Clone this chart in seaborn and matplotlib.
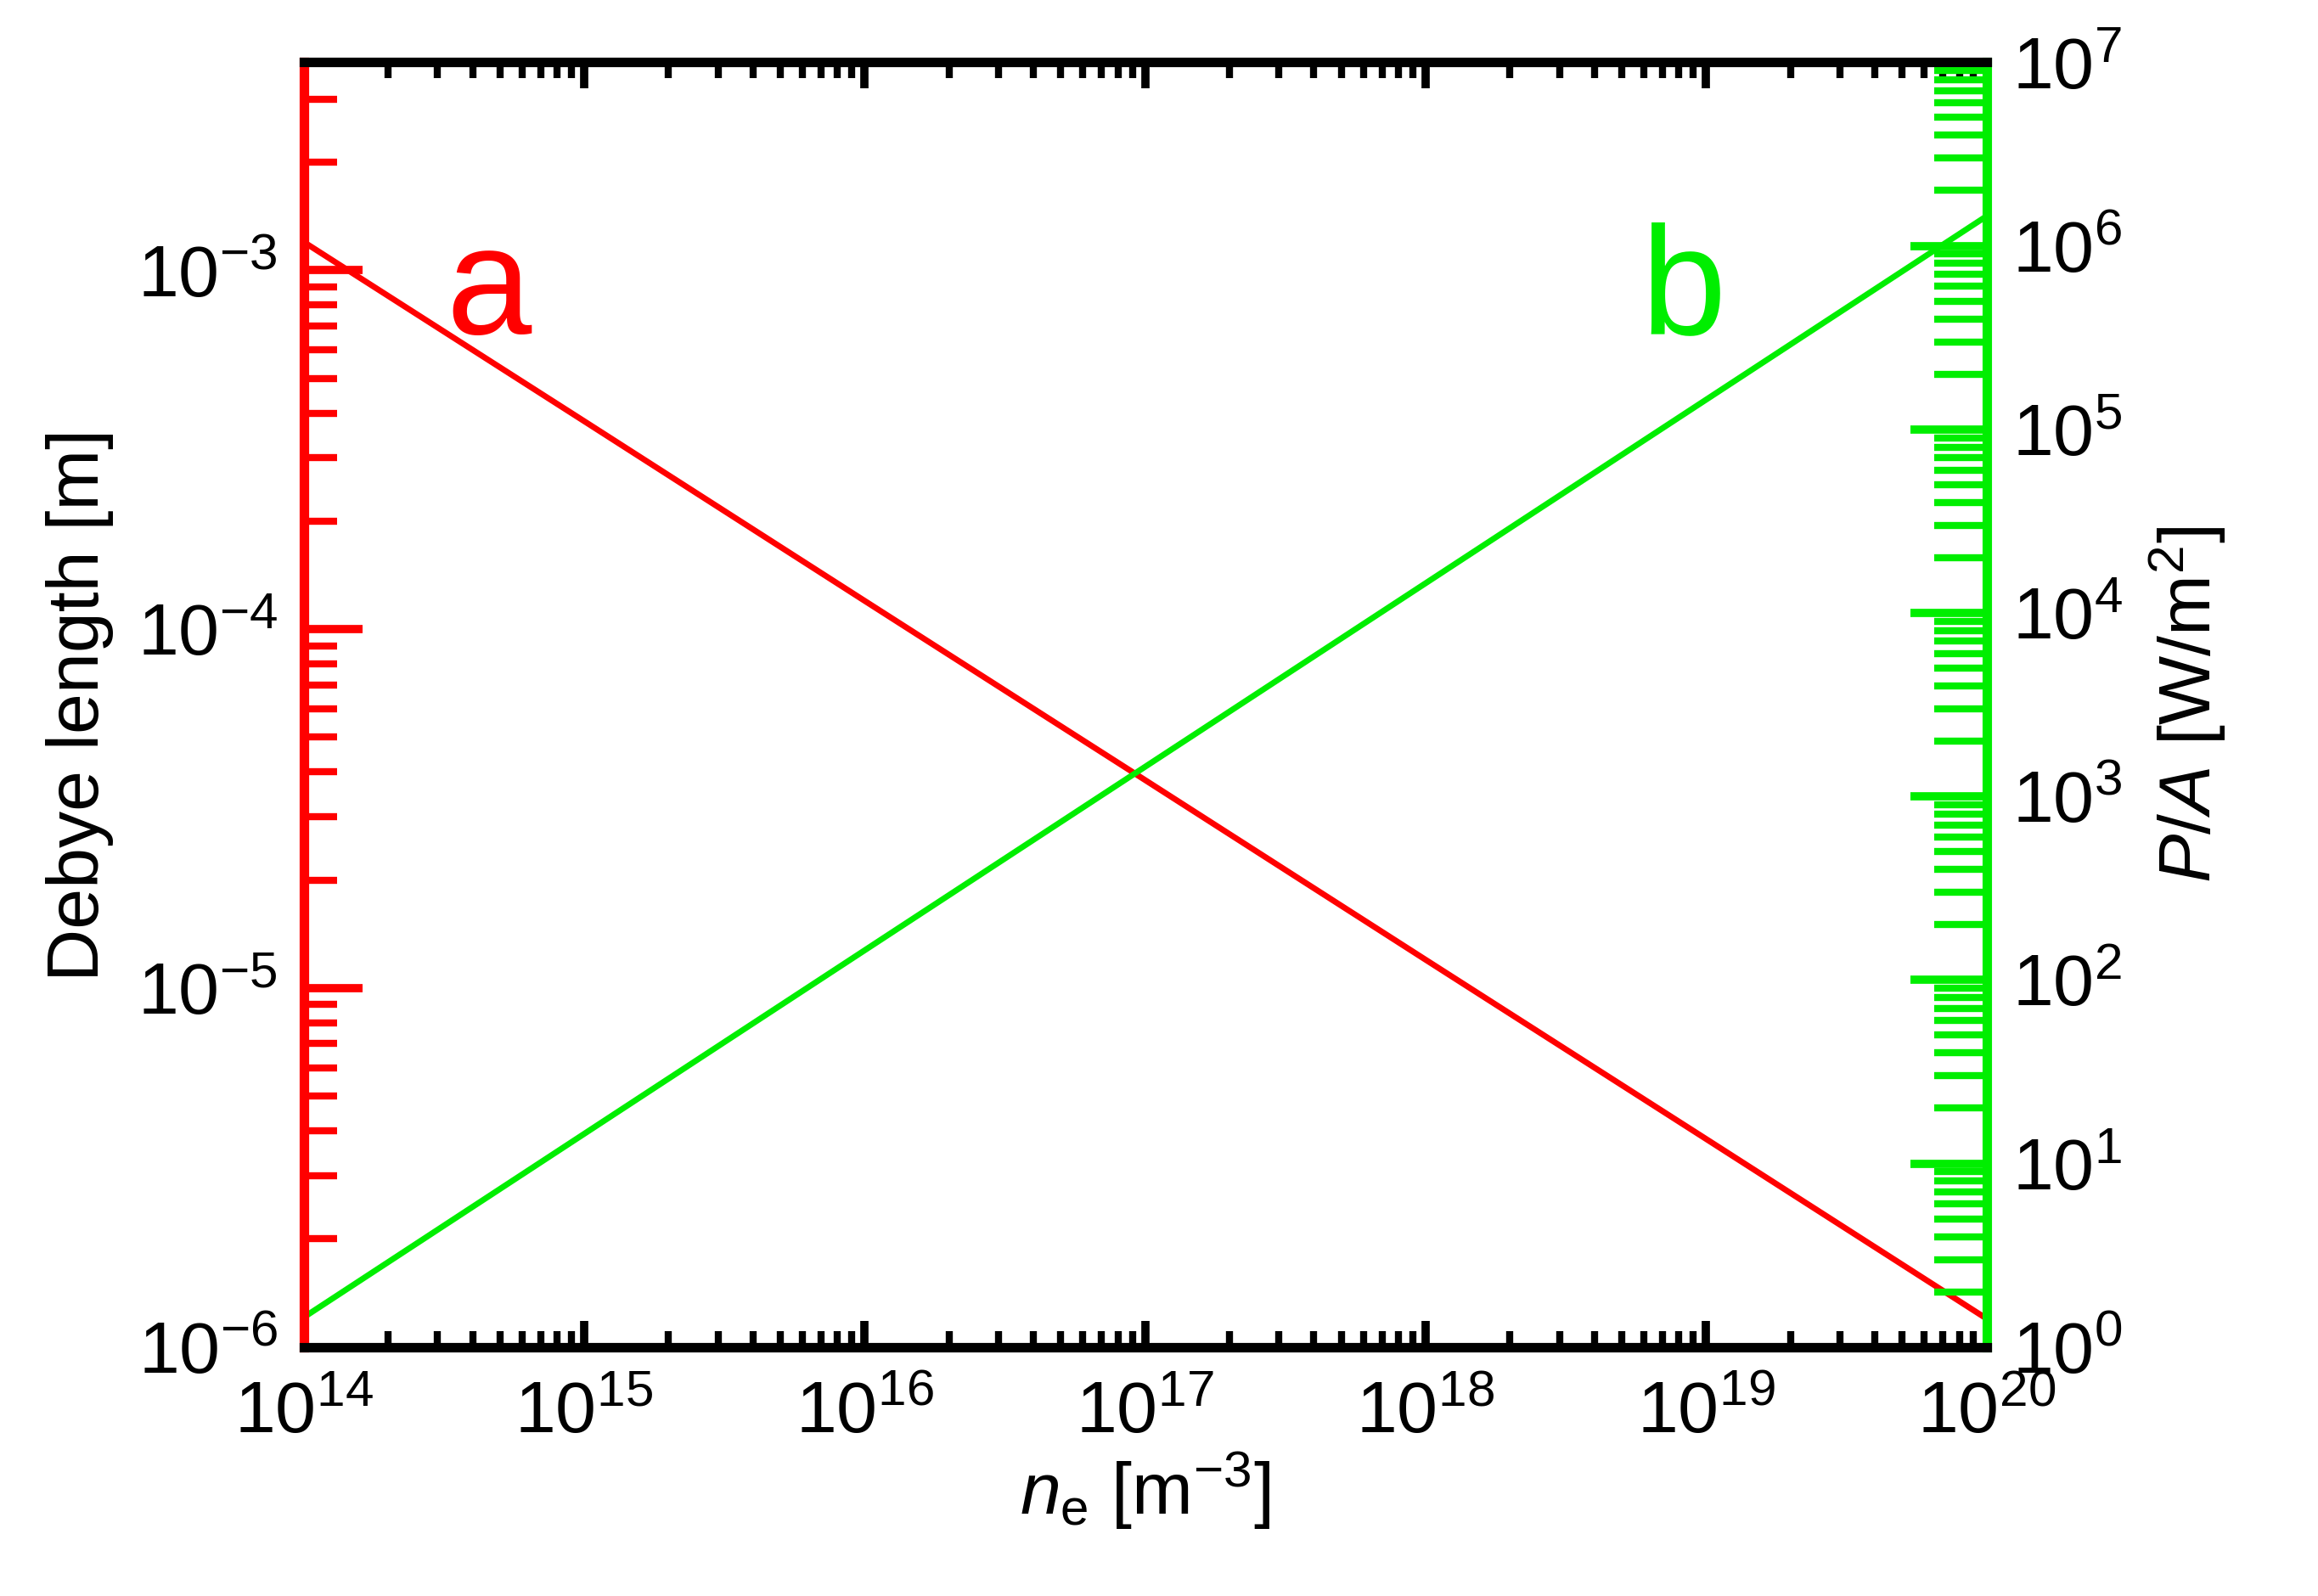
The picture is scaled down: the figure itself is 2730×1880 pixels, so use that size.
import matplotlib
matplotlib.use("Agg")
import matplotlib.pyplot as plt
import seaborn as sns
import numpy as np
import pandas as pd
from matplotlib.ticker import LogLocator, NullFormatter

ne = [1e14, 1e15, 1e16, 1e17, 1e18, 1e19, 1e20]
debye = [1.2e-3, 3.8e-4, 1.2e-4, 3.8e-5, 1.2e-5, 3.8e-6, 1.2e-6]
power = [1.45, 14.5, 145, 1450, 14500, 145000, 1450000]

sns.set_style("white")
plt.rcParams['font.family'] = ['Liberation Sans', 'DejaVu Sans']
plt.rcParams['text.color'] = 'black'
plt.rcParams['axes.labelcolor'] = 'black'
plt.rcParams['xtick.labelcolor'] = 'black'
plt.rcParams['ytick.labelcolor'] = 'black'
plt.rcParams['mathtext.fontset'] = 'custom'
plt.rcParams['mathtext.rm'] = 'Liberation Sans'
plt.rcParams['mathtext.it'] = 'Liberation Sans:italic'

fig = plt.figure(figsize=(27.3, 18.8), dpi=100)
ax = fig.add_axes([0.131, 0.156, 0.726, 0.805])
df = pd.DataFrame({'ne': ne, 'debye': debye, 'power': power})
sns.lineplot(data=df, x='ne', y='debye', ax=ax, color='#ff0000', lw=5)
ax.set_xscale('log'); ax.set_yscale('log')
ax.set_xlim(1e14, 1e20); ax.set_ylim(1e-6, 3.8e-3)
ax2 = ax.twinx()
sns.lineplot(data=df, x='ne', y='power', ax=ax2, color='#00ee00', lw=5)
ax2.set_yscale('log'); ax2.set_ylim(1, 1e7)

fs = 62
for a in (ax, ax2):
    for s in a.spines.values():
        s.set_linewidth(8)
ax.spines['left'].set_color('red')
ax2.spines['left'].set_color('red')
ax2.spines['right'].set_color('#00ee00')
ax.spines['right'].set_visible(False)
for s in ('top', 'bottom'):
    ax.spines[s].set_color('black'); ax2.spines[s].set_color('black')

for axis in (ax.xaxis, ax.yaxis, ax2.yaxis):
    axis.set_major_locator(LogLocator(base=10, numticks=20))
    axis.set_minor_locator(LogLocator(base=10, subs=np.arange(2, 10), numticks=100))
    axis.set_minor_formatter(NullFormatter())

ax.tick_params(axis='x', which='major', direction='in', top=True, bottom=True, length=22, width=7, labelsize=fs, pad=28, color='black')
ax.tick_params(axis='x', which='minor', direction='in', top=True, bottom=True, length=14, width=6, color='black')
ax.tick_params(axis='y', which='major', direction='in', left=True, length=50, width=7, labelsize=fs, pad=22, color='red')
ax.tick_params(axis='y', which='minor', direction='in', left=True, length=28, width=6, color='red')
ax2.tick_params(axis='y', which='major', direction='in', right=True, length=65, width=7, labelsize=fs, pad=22, color='#00ee00')
ax2.tick_params(axis='y', which='minor', direction='in', right=True, length=45, width=6, color='#00ee00')

ax.set_xlabel(r'$n_{\mathrm{e}}$ [m$^{-3}$]', fontsize=fs, labelpad=2)
ax.set_ylabel('Debye length [m]', fontsize=fs, labelpad=20)
ax2.set_ylabel(r'$P/A$ [W/m$^{2}$]', fontsize=fs, labelpad=20)

ax.text(0.11, 0.82, 'a', transform=ax.transAxes, color='red', fontsize=130, ha='center', va='center')
ax.text(0.82, 0.82, 'b', transform=ax.transAxes, color='#00ee00', fontsize=130, ha='center', va='center')

fig.savefig('out.png', dpi=100)
